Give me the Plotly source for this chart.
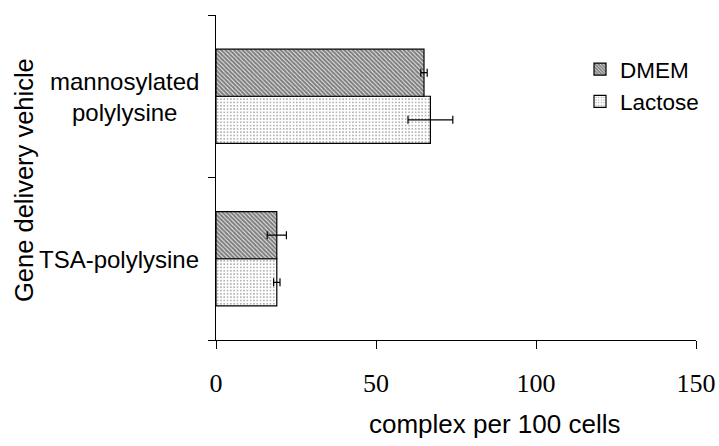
import plotly.graph_objects as go

categories = ["TSA-polylysine", "mannosylated<br>polylysine"]
dmem = [19, 65]
dmem_err = [3, 1]
lactose = [19, 67]
lactose_err = [1, 7]
x_ticks = [0, 50, 100, 150]
x_title = "complex per 100 cells"
y_title = "Gene delivery vehicle"

fig = go.Figure()
fig.add_trace(go.Bar(
    y=categories, x=lactose, orientation="h", name="Lactose",
    marker=dict(color="white", line=dict(color="black", width=1.2),
                pattern=dict(shape=".", fgcolor="#444", bgcolor="white", size=3.3, solidity=0.22)),
    error_x=dict(type="data", array=lactose_err, color="black", thickness=1.2, width=4),
))
fig.add_trace(go.Bar(
    y=categories, x=dmem, orientation="h", name="DMEM",
    marker=dict(color="white", line=dict(color="black", width=1.2),
                pattern=dict(shape="\\", fgcolor="black", bgcolor="white", size=3, solidity=0.75)),
    error_x=dict(type="data", array=dmem_err, color="black", thickness=1.2, width=4),
))

for c in categories:
    fig.add_annotation(x=(201 - 216) / 480, y=c, xref="paper", yref="y", text=c, showarrow=False,
                       xanchor="right", align="center", yshift=-1,
                       font=dict(family="Liberation Sans", size=24, color="black"))
fig.add_annotation(x=(24 - 216) / 480, y=(340 - 180) / 325, xref="paper", yref="paper", text=y_title,
                   showarrow=False, textangle=-90, xanchor="center", yanchor="middle",
                   font=dict(family="Liberation Sans", size=25.5, color="black"))
fig.add_annotation(x=(494 - 216) / 480, y=-(424 - 340) / 325, xref="paper", yref="paper", text=x_title,
                   showarrow=False, xanchor="center", yanchor="middle",
                   font=dict(family="Liberation Sans", size=26, color="black"))

fig.update_layout(
    width=719, height=446,
    margin=dict(l=216, r=23, t=15, b=106),
    paper_bgcolor="white", plot_bgcolor="white",
    barmode="group", bargap=0.42, bargroupgap=0,
    showlegend=True,
    legend=dict(x=(580 - 216) / 480, y=1 - (48 - 15) / 325, xanchor="left", yanchor="top",
                traceorder="reversed",
                font=dict(family="Liberation Sans", size=22.5, color="black"),
                bgcolor="rgba(0,0,0,0)", itemwidth=30),
    xaxis=dict(range=[0, 150], tickvals=x_ticks, showgrid=False, zeroline=False, automargin=False,
               showline=True, linecolor="black", linewidth=1, ticks="outside", ticklen=8,
               tickcolor="black", ticklabelstandoff=12,
               tickfont=dict(family="Liberation Serif", size=26, color="black")),
    yaxis=dict(range=[-0.5, 1.5], showgrid=False, zeroline=False, showline=True, automargin=False,
               linecolor="black", linewidth=1, ticks="outside", ticklen=7, tickcolor="black",
               tickson="boundaries", showticklabels=False),
)

# remove the browser's default 8px body margin so the figure sits at the page origin
fig.write_html("out.html", config={"displayModeBar": False},
               post_script="document.body.style.margin='0';document.body.style.overflow='hidden';")
